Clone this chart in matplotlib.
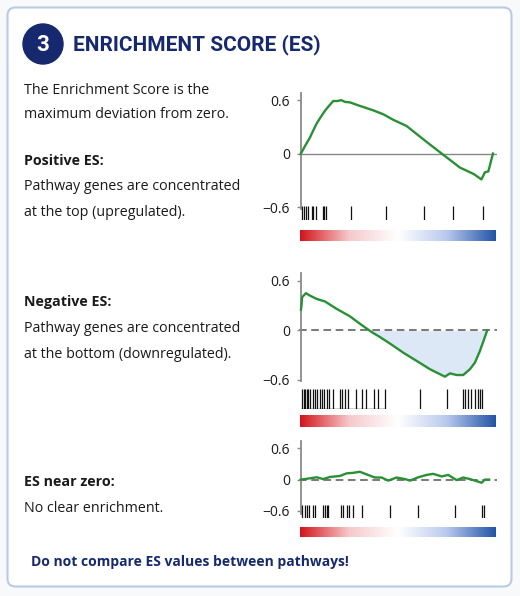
import numpy as np
import matplotlib.pyplot as plt
from matplotlib.patches import FancyBboxPatch, Circle
from matplotlib.colors import LinearSegmentedColormap

W, H = 520, 596

# running enrichment score curves (x = rank position in %, y = ES)
pos_pos = [0, 2, 4.7, 6, 8, 10, 12.5, 14, 16.8, 19, 21, 23, 25.5, 30, 37.7, 43,
           48, 55, 65.5, 73.3, 82.8, 90, 94, 95.8, 97.6, 100]
es_pos = [0, 0.08, 0.18, 0.24, 0.33, 0.40, 0.48, 0.52, 0.59, 0.59, 0.60, 0.58,
          0.575, 0.54, 0.485, 0.44, 0.38, 0.31, 0.13, 0.0, -0.157, -0.23, -0.29,
          -0.21, -0.2, 0]
hits_pos = [0.7, 1.7, 2.8, 3.8, 5.6, 6.4, 7.8, 11.5, 12.1, 13.0, 25.9, 44.1,
            64.1, 79.3, 94.9]

pos_neg = [0, 0.3, 0.6, 2.6, 4.7, 8.2, 12.5, 18.6, 25.5, 30.7, 36.8, 41.1, 46.4,
           53.3, 60.3, 67.2, 75, 77.6, 81.1, 84.5, 88, 90.6, 93.2, 95.8, 97]
es_neg = [0.25, 0.30, 0.40, 0.45, 0.42, 0.38, 0.35, 0.26, 0.17, 0.08, -0.02,
          -0.08, -0.16, -0.27, -0.37, -0.47, -0.56, -0.52, -0.54, -0.54, -0.47,
          -0.39, -0.25, -0.08, 0]
hits_neg = [0.7, 1.4, 2.1, 3.1, 3.8, 4.8, 6.4, 7.3, 8.3, 9.9, 11.1, 12.1, 13.7,
            14.7, 16.5, 20.6, 21.4, 22.9, 24.6, 28.6, 31.6, 34.0, 38.2, 40.3,
            43.8, 62.0, 75.9, 84.5, 85.4, 87.1, 88.5, 90.6, 92.0, 93.2, 94.1]

pos_zero = [0, 4.7, 8.2, 11.6, 15.1, 20.3, 23.8, 27.3, 30.7, 34.2, 38.5, 42,
            45.5, 49.8, 54.2, 56.8, 61.1, 65.5, 68.9, 73.3, 76.7, 81.1, 84.5,
            88, 91.5, 94.1, 95.8, 98]
es_zero = [0, 0.025, 0.045, 0.01, 0.05, 0.07, 0.12, 0.13, 0.15, 0.10, 0.04,
           0.04, -0.02, 0.04, 0.01, -0.02, 0.045, 0.09, 0.11, 0.06, 0.09, -0.01,
           0.04, 0.01, -0.03, -0.06, 0, 0]
hits_zero = [0.7, 2.1, 3.1, 4.2, 6.4, 7.3, 11.5, 12.5, 13.5, 14.2, 20.8, 21.9,
             24.1, 25.0, 27.2, 31.6, 46.4, 61.1, 80.2, 94.1, 95.1]

yticks = [-0.6, 0, 0.6]

navy = '#16296e'
green = '#2a9036'
plt.rcParams['font.family'] = ['Open Sans', 'DejaVu Sans']

fig = plt.figure(figsize=(W / 100, H / 100), dpi=100)
fig.patch.set_facecolor('#f8f9fb')


def rect(x0, y0, x1, y1):
    return [x0 / W, 1 - y1 / H, (x1 - x0) / W, (y1 - y0) / H]


# background card in pixel coordinates
bg = fig.add_axes([0, 0, 1, 1])
bg.set_xlim(0, W)
bg.set_ylim(H, 0)
bg.axis('off')
bg.add_patch(FancyBboxPatch((7.5, 7.5), 504, 579,
                            boxstyle='round,pad=0,rounding_size=8',
                            facecolor='white', edgecolor='#b9cbe4', lw=1.5))
bg.add_patch(Circle((43, 44), 20, color=navy))
bg.text(43, 45, '3', color='white', fontsize=16, fontweight='bold',
        ha='center', va='center', family='Roboto')
bg.text(73, 45, 'ENRICHMENT SCORE (ES)', color=navy, fontsize=15,
        fontweight='bold', ha='left', va='center', family='Roboto')

lines = [
    (90, 'The Enrichment Score is the', 'normal'),
    (115, 'maximum deviation from zero.', 'normal'),
    (161, 'Positive ES:', 'bold'),
    (187, 'Pathway genes are concentrated', 'normal'),
    (212, 'at the top (upregulated).', 'normal'),
    (302, 'Negative ES:', 'bold'),
    (329, 'Pathway genes are concentrated', 'normal'),
    (354, 'at the bottom (downregulated).', 'normal'),
    (482, 'ES near zero:', 'bold'),
    (508, 'No clear enrichment.', 'normal'),
]
for y, s, w in lines:
    bg.text(24, y, s, fontsize=10.3, fontweight=w, color='#1a1a1a',
            ha='left', va='center')
bg.text(31, 562, 'Do not compare ES values between pathways!', fontsize=10,
        fontweight='bold', color=navy, ha='left', va='center')

cmap = LinearSegmentedColormap.from_list('rank', ['#d3141c', '#f6c9cc', '#ffffff',
                                                  '#b9c8ee', '#2255a6'])
XL = (-1, 102)
X0, X1 = 299, 496.8


def es_panel(xs, ys, hits, top, bot, ylim, rug, bar, dashed, fill):
    ax = fig.add_axes(rect(X0, top, X1, bot))
    ax.set_xlim(XL)
    ax.set_ylim(ylim)
    ax.patch.set_alpha(0)
    for s in ['top', 'right', 'bottom']:
        ax.spines[s].set_visible(False)
    ax.spines['left'].set_color('#8a8a8a')
    ax.spines['left'].set_linewidth(1.3)
    ax.spines['left'].set_position(('data', 0))
    ax.set_xticks([])
    ax.set_yticks(yticks)
    ax.set_yticklabels(['\u22120.6', '0', '0.6'])
    ax.tick_params(axis='y', length=3, width=1, color='#8a8a8a', pad=5,
                   labelsize=10, labelcolor='#1a1a1a')
    if dashed:
        ax.axhline(0, color='#555555', lw=1.1, ls=(0, (5, 3)), zorder=1)
    else:
        ax.axhline(0, color='#888888', lw=1, zorder=1)
    if fill:
        ax.fill_between(xs, ys, 0, where=np.array(ys) <= 0, interpolate=True,
                        color='#dde8f7', lw=0, zorder=0)
    ax.plot(xs, ys, color=green, lw=1.7, zorder=3)

    rax = fig.add_axes(rect(X0, rug[0], X1, rug[1]))
    rax.set_xlim(XL)
    rax.set_ylim(0, 1)
    rax.axis('off')
    rax.vlines(hits, 0, 1, color='#111111', lw=0.9)
    if fill:
        rax.hlines(0, 0, 44, color='#111111', lw=1.0)

    cax = fig.add_axes(rect(300, bar[0], 496, bar[1]))
    cax.imshow(np.linspace(0, 1, 256)[None, :], aspect='auto', cmap=cmap)
    cax.axis('off')
    return ax


es_panel(pos_pos, es_pos, hits_pos, 93, 208.8, (-0.62, 0.68), (206, 220),
         (230, 241), False, False)
es_panel(pos_neg, es_neg, hits_neg, 273.3, 380.8, (-0.61, 0.69), (389, 409),
         (415, 427), True, True)
es_panel(pos_zero, es_zero, hits_zero, 440.5, 514, (-0.66, 0.75), (505, 518),
         (527, 537), True, False)

fig.savefig('out.png', dpi=100, facecolor=fig.get_facecolor())
